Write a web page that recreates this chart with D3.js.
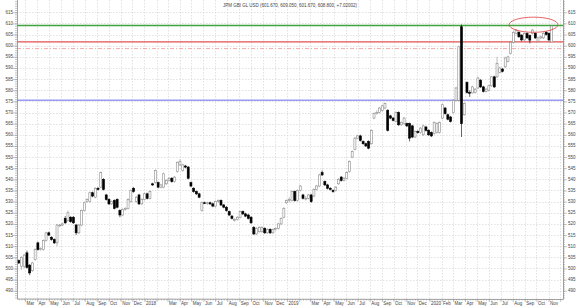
<!DOCTYPE html>
<html>
<head>
<meta charset="utf-8">
<script src="https://cdn.jsdelivr.net/npm/d3@7"></script>
<style>
  body { margin: 0; background: #fff; }
  svg { display: block; }
  text { font-family: "Liberation Sans", Arial, sans-serif; }
</style>
</head>
<body>
<svg id="chart" width="580" height="307"></svg>
<script>
// DATA
var title = 'JPM GBI GL USD (601.670, 609.050, 601.670, 608.800, +7.02002)';
var firstWeek = '2017-02-13';

var opens = [503.5,501,501,507,501.5,499,504,511.5,508.5,508.5,512.5,516,514,513,511.5,519.5,519.5,522.5,521.5,523,
  523,519.5,516,519.5,526,530,530,534,532,536,536.5,540,533,531,529,530.5,531,526,524,526.5,
  527,530,536,530,533,529,531,533.5,531.5,538,538.5,538.5,536.5,536.5,538,539.5,540.5,539,543.5,546.5,
  544,546,545.5,538.5,536,534.5,533.5,526,529.5,529.3,529.5,529,528,530,530.5,528.5,527.5,525.5,523.5,522,
  522,523,525.5,524.5,524,523,518.5,515.5,516.5,516.5,518,516,517.5,516,518,518,520,523,529.5,530.5,
  530.5,534.5,530.5,535,533,531.5,531.5,533,532.5,535.5,537,543,539,537.5,536,535,535,538,541,539.5,
  540.5,543.5,550,553.5,558.5,559.5,557,556,557,556,567.5,569.5,570,571,572,571,568.5,567.5,566,570,
  564.5,565,565,565,564,559,561.5,561,560,563.5,562,561,560.5,561,561,567.5,572,569,568,570,
  575.5,575.5,608.5,569,583.5,579,578.8,579,581,584.5,581.5,579.5,580,582,586,586,588,589.5,590.5,593,
  596.5,601.5,605.5,606,604.8,602.6,605.5,604.5,605.5,605.5,602,603.5,603.5,606,605.5,601.67];
var highs = [504,505.5,506.5,508,502,503,509,512,509.5,513,516.5,516.5,514.5,513.5,520,520,520.5,523.5,526,523.5,
  523.5,520,520,526.5,530,531.5,534.5,534.5,536.5,536.5,543.5,540.5,533.5,531.5,530.5,531,531.5,526.5,527,527.5,
  531.5,535.5,536.5,532.5,533.5,531.5,534,534,535,538.5,544.5,539,538,543,540,541,541,541.5,548,549,
  547,546.5,546,539,536.5,535,534,530,530,530,530,529.5,530.5,531,531,529,528,526,524,522.5,
  523.5,526,526,525,524.5,523.5,519,518.5,519,519,518.5,518,518,518,518.5,520.5,523,527.5,531,532,
  535,535,535.5,537.5,533.5,532.5,533.5,533.5,536,537.5,542.5,544,539.5,538,536.5,535.5,537,540.5,541.5,541,
  543.5,548.5,553,559,560,560,557.5,556.5,557.5,562.5,570,571,572.5,573.5,574.5,571.5,569,568,570.5,570.5,
  566,568,565.5,565.5,564.5,562,562,563.5,564.5,564,562.5,561.5,566,565.5,566,574,572.5,569.5,568.5,576,
  581.5,600,609.5,574.5,584,580,582,581,586,585,582,581,582.5,586.5,586.5,595,590.5,590,595,595.5,
  602,606.5,607.5,606.5,605,606,606,605,607.5,606,604,604.5,606,606.5,606,609.05];
var lows = [502,499.5,500,500,497,498.5,503.5,508,508,508,512,514.5,512.5,511,510,518.5,519,520,521,520.5,
  520,515,515.5,519,525.5,529.5,529.5,532,531.5,535,536,535,530.5,528.5,528.5,526.5,527,523,523.5,526,
  526.5,529.5,534,529.5,528.5,528.5,530.5,531,531,537,538,536,536,536,537.5,539,538.5,538.5,543,546,
  543.5,545,540,536.5,534,533,531.5,525.5,529,528.5,528.5,527.5,527.5,529.5,528,527,525.5,523.5,522,521,
  521.5,522.5,524,523,522,520,515,515,516,516,515.5,515.5,515.5,515.5,517,517.5,519.5,522.5,529,529.5,
  530,530,530,534.5,531,530.5,531,529.5,532,535,536.5,541.5,537,535.5,535,534,534.5,537.5,539,539,
  540,543,549.5,553,558,557,555.5,554.5,553.5,555.5,567,569,569.5,570.5,571.5,561.5,567,566,565.5,564,
  564,564.5,563.5,557,558.5,558.5,560.5,560.5,559.5,561.5,559.5,559,560,560.5,560.5,567,569,566.5,565.5,569.5,
  575,575,559,568.5,578.5,577,578.5,578.5,580.5,581,579,579,579.5,581.5,581,585.5,587.5,588,590,592.5,
  596,601,605,603.5,602,602,603,601,605,603,601.5,603,603,604.5,602,601.67];
var closes = [502.5,505,506,500.5,498,502.5,508.5,508.5,509,512.5,516,515,513,511.5,519.5,519.5,520,520.5,525,521,
  520.5,516,519.5,526,529.5,531,534,532.5,536,535.5,543,535.5,531,529,530,527,527.5,524,526.5,527,
  531,535,534.5,532,529,531,533.5,531.5,534.5,537.5,544,536.5,537.5,542.5,539.5,540.5,539,541,547.5,548,
  546.5,545.5,540.5,537,534.5,533.5,532,529.5,529.3,529.5,529,528,530,530.5,528.5,527.5,526,524,522.5,522,
  523,525.5,524.5,523.5,522.5,520.5,515.5,518,518.5,518.5,516,517.5,516,517.5,518,520,522.5,527,530.5,531,
  534.5,530.5,535,537,531.5,531.5,533,530,535.5,537,542,542,537.5,536,535.5,534.5,536.5,540,539.5,540.5,
  543,548,552.5,558.5,559.5,557.5,556,555,554,562,569.5,570,572,573,574,562,567.5,566.5,570,564.5,
  565.5,567.5,564,558.5,559,561.5,561,563,564,562,560,559.5,565.5,565,565.5,573.5,569.5,567,566,575.5,
  581,599.5,565,574,579,578.8,581.5,580.5,585.5,581.5,579.5,580.5,582,586,581.5,592,590,588.5,594.5,595,
  601.5,606,607,604,602.6,605.5,603.5,602.5,607,603.5,603.5,604,605.5,605,602.6,608.8];

// reference lines
var levelGreen = 609.05;
var levelRed = 601.67;
var levelRedDash = 598.7;
var levelBlue = 575.5;
// highlighted zone (dates, values)
var zoneDates = ['2020-07-23', '2020-11-25'];
var zoneValues = [606.0, 612.8];

// axes
var xDomain = ['2017-02-08T12:00', '2020-12-08'];
var yDomain = [486.3, 620.5];
var yLabels = [490,495,500,505,510,515,520,525,530,535,540,545,550,555,560,565,570,575,580,585,590,595,600,605,610,615];
var monthStarts = ['2017-03','2017-04','2017-05','2017-06','2017-07','2017-08','2017-09','2017-10','2017-11','2017-12',
  '2018-01','2018-02','2018-03','2018-04','2018-05','2018-06','2018-07','2018-08','2018-09','2018-10','2018-11','2018-12',
  '2019-01','2019-02','2019-03','2019-04','2019-05','2019-06','2019-07','2019-08','2019-09','2019-10','2019-11','2019-12',
  '2020-01','2020-02','2020-03','2020-04','2020-05','2020-06','2020-07','2020-08','2020-09','2020-10','2020-11','2020-12'];
var monthLabels = ['Mar','Apr','May','Jun','Jul','Aug','Sep','Oct','Nov','Dec',
  '2018','','Mar','Apr','May','Jun','Jul','Aug','Sep','Oct','Nov','Dec',
  '2019','','Mar','Apr','May','Jun','Jul','Aug','Sep','Oct','Nov','Dec',
  '2020','Feb','Mar','Apr','May','Jun','Jul','Aug','Sep','Oct','Nov',''];

//.....................................................................//
// SETUP
var svg = d3.select('#chart');
var plotL = 17, plotR = 563, plotT = 0, plotB = 299;
var parseDay = d3.timeParse('%Y-%m-%d');
var parseMonth = d3.timeParse('%Y-%m');

var x = d3.scaleTime()
          .domain([d3.isoParse(xDomain[0]), d3.isoParse(xDomain[1])])
          .range([plotL, plotR]);
var y = d3.scaleLinear().domain(yDomain).range([plotB, plotT]);

var start = parseDay(firstWeek);
var candles = closes.map(function(c, i) {
    return { date: d3.timeDay.offset(start, 7 * i), o: opens[i], h: highs[i], l: lows[i], c: c };
});

//.....................................................................//
// GRID
var grid = svg.append('g').attr('class', 'grid');
grid.selectAll('line.h')
    .data(yLabels)
    .enter().append('line')
    .attr('x1', plotL).attr('x2', plotR)
    .attr('y1', d => Math.round(y(d)) + 0.5).attr('y2', d => Math.round(y(d)) + 0.5)
    .style('stroke', '#d6d6d6').style('stroke-width', 0.7)
    .style('stroke-dasharray', '1.5,1.5');
grid.selectAll('line.v')
    .data(monthStarts)
    .enter().append('line')
    .attr('x1', d => Math.round(x(parseMonth(d))) + 0.5)
    .attr('x2', d => Math.round(x(parseMonth(d))) + 0.5)
    .attr('y1', plotT).attr('y2', plotB)
    .style('stroke', '#d6d6d6').style('stroke-width', 0.7)
    .style('stroke-dasharray', '1.5,1.5');

//.....................................................................//
// REFERENCE LINES
function hline(v, color, width, dash) {
    svg.append('line')
       .attr('x1', plotL).attr('x2', plotR)
       .attr('y1', y(v)).attr('y2', y(v))
       .style('stroke', color).style('stroke-width', width)
       .style('stroke-dasharray', dash || null);
}
hline(levelBlue, '#9b9bf5', 1.4);
hline(levelRedDash, '#f2a5a5', 0.9, '4,2,1,2');
hline(levelRed, '#e25050', 1.2);
hline(levelGreen, '#3fa33f', 1.3);

//.....................................................................//
// CANDLES
var bodyW = 2;
var cg = svg.append('g').attr('class', 'candles');
cg.selectAll('line')
  .data(candles)
  .enter().append('line')
  .attr('x1', d => x(d.date)).attr('x2', d => x(d.date))
  .attr('y1', d => y(d.h)).attr('y2', d => y(d.l))
  .style('stroke', d => d.c >= d.o ? '#8c8c8c' : '#000')
  .style('stroke-width', 0.6);
cg.selectAll('rect')
  .data(candles)
  .enter().append('rect')
  .attr('x', d => x(d.date) - bodyW / 2)
  .attr('y', d => y(Math.max(d.o, d.c)))
  .attr('width', bodyW)
  .attr('height', d => Math.max(0.8, Math.abs(y(d.o) - y(d.c))))
  .style('fill', d => d.c >= d.o ? '#fff' : '#000')
  .style('stroke', d => d.c >= d.o ? '#8c8c8c' : '#000')
  .style('stroke-width', 0.6);

//.....................................................................//
// ZONE ELLIPSE
var ex0 = x(parseDay(zoneDates[0])), ex1 = x(parseDay(zoneDates[1]));
var ey0 = y(zoneValues[1]), ey1 = y(zoneValues[0]);
svg.append('ellipse')
   .attr('cx', (ex0 + ex1) / 2).attr('cy', (ey0 + ey1) / 2)
   .attr('rx', (ex1 - ex0) / 2).attr('ry', (ey1 - ey0) / 2)
   .style('fill', 'none').style('stroke', '#e03c3c').style('stroke-width', 0.8);

//.....................................................................//
// AXES
var minorY = d3.range(Math.ceil(yDomain[0]), Math.floor(yDomain[1]) + 1);
var axisColor = '#8a8a8a';
function styleAxis(g) {
    g.select('.domain').remove();
    g.selectAll('line').style('stroke', axisColor).style('stroke-width', 0.5);
}
svg.append('g').attr('transform', 'translate(' + plotL + ',0)')
   .call(d3.axisLeft(y).tickValues(minorY).tickSize(2).tickFormat('')).call(styleAxis);
svg.append('g').attr('transform', 'translate(' + plotR + ',0)')
   .call(d3.axisRight(y).tickValues(minorY).tickSize(2).tickFormat('')).call(styleAxis);
svg.append('g').attr('transform', 'translate(' + plotL + ',0)')
   .call(d3.axisLeft(y).tickValues(yLabels).tickSize(4).tickFormat('')).call(styleAxis);
svg.append('g').attr('transform', 'translate(' + plotR + ',0)')
   .call(d3.axisRight(y).tickValues(yLabels).tickSize(4).tickFormat('')).call(styleAxis);

// bottom: weekly minor ticks and month ticks
svg.append('g').attr('transform', 'translate(0,' + plotB + ')')
   .call(d3.axisBottom(x).tickValues(candles.map(d => d.date)).tickSize(1.5).tickFormat(''))
   .call(styleAxis);
svg.append('g').attr('transform', 'translate(0,' + plotB + ')')
   .call(d3.axisBottom(x).tickValues(monthStarts.map(parseMonth)).tickSize(3).tickFormat(''))
   .call(styleAxis);

// axis lines
[[plotL, plotT, plotL, plotB], [plotR, plotT, plotR, plotB], [plotL, plotB, plotR, plotB]].forEach(function(p) {
    svg.append('line')
       .attr('x1', p[0] + 0.5).attr('y1', p[1]).attr('x2', p[2] + 0.5).attr('y2', p[3] + 0.5)
       .style('stroke', axisColor).style('stroke-width', 0.8);
});

// labels
var fs = 4.5, txtColor = '#444';
svg.selectAll('text.yl')
   .data(yLabels)
   .enter().append('text')
   .attr('x', plotL - 4).attr('y', d => y(d) + 1.5)
   .attr('text-anchor', 'end')
   .style('font-size', fs + 'px').style('fill', txtColor)
   .text(d => d);
svg.selectAll('text.yr')
   .data(yLabels)
   .enter().append('text')
   .attr('x', plotR + 5).attr('y', d => y(d) + 1.5)
   .style('font-size', fs + 'px').style('fill', txtColor)
   .text(d => d);
svg.selectAll('text.xl')
   .data(monthStarts)
   .enter().append('text')
   .attr('x', d => x(parseMonth(d)) + 1.5).attr('y', plotB + 6)
   .style('font-size', fs + 'px').style('fill', txtColor)
   .text((d, i) => monthLabels[i]);

// title
svg.append('text')
   .attr('x', 290).attr('y', 6.5)
   .attr('text-anchor', 'middle')
   .style('font-size', fs + 'px').style('fill', txtColor)
   .text(title);
</script>
</body>
</html>
